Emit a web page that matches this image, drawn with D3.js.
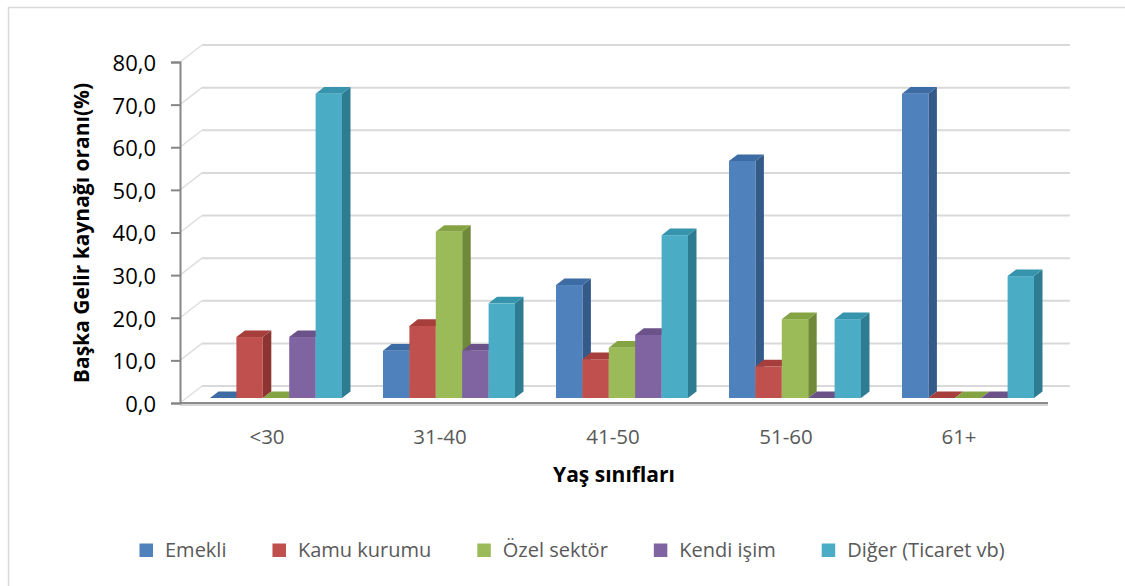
<!DOCTYPE html>
<html>

<head>
		<title>Başka Gelir Kaynağı</title>
		<!-- d3js -->
		<script src="https://cdnjs.cloudflare.com/ajax/libs/d3/7.8.5/d3.min.js"></script>
		<style>
			body { margin: 0; background: #fff; }
			svg { display: block; font-family: "Open Sans", "DejaVu Sans", sans-serif; }
		</style>
</head>

<body>
<script type="text/javascript">
		// chart data
		var categories = ["<30", "31-40", "41-50", "51-60", "61+"];
		var seriesNames = ["Emekli", "Kamu kurumu", "Özel sektör", "Kendi işim", "Diğer (Ticaret vb)"];
		var emekli = [0, 11.1, 26.5, 55.6, 71.4];
		var kamu = [14.3, 16.9, 9.1, 7.4, 0];
		var ozel = [0, 39.0, 11.8, 18.5, 0];
		var kendi = [14.3, 11.1, 14.8, 0, 0];
		var diger = [71.4, 22.2, 38.2, 18.5, 28.6];
		var yTicks = [0, 10, 20, 30, 40, 50, 60, 70, 80];
		var colors = ["#4F81BD", "#C0504D", "#9BBB59", "#8064A2", "#4BACC6"];

		var self = {};
		self.width = 1125;
		self.height = 586;

		self.init = function() {
			var seriesValues = [emekli, kamu, ozel, kendi, diger];

			// 3d offsets: bar plane -> front axis / back wall, bar depth
			var front = { dx: -6.5, dy: 5 };
			var back = { dx: 15.5, dy: -12 };
			var depth = { dx: 8.5, dy: -6.6 };

			var y = d3.scaleLinear().domain([0, 80]).range([398, 57]);

			var x = d3.scaleBand()
				.domain(categories)
				.range([189.5, 189.5 + 865])
				.paddingInner(0.237)
				.paddingOuter(0.1185);

			var xs = d3.scaleBand()
				.domain(seriesNames)
				.range([0, x.bandwidth()]);

			var axisX = x.range()[0] + front.dx - 3;   // ~180
			var floorEnd = 1048;

			var canvas = d3.select("body")
				.append("svg")
				.attr("width", self.width)
				.attr("height", self.height);

			// outer border
			canvas.append("rect")
				.attr("x", 8.5).attr("y", 7.5)
				.attr("width", 1200).attr("height", 700)
				.attr("fill", "none")
				.attr("stroke", "#D9D9D9")
				.attr("stroke-width", 1.5);

			// back wall gridlines + side wall diagonals
			var grid = canvas.append("g");
			grid.selectAll("line.back")
				.data(yTicks)
				.enter()
					.append("line")
					.attr("class", "back")
					.attr("x1", axisX + (back.dx - front.dx))
					.attr("x2", floorEnd + (back.dx - front.dx))
					.attr("y1", function(d) { return y(d) + back.dy; })
					.attr("y2", function(d) { return y(d) + back.dy; })
					.attr("stroke", "#D9D9D9")
					.attr("stroke-width", 2);
			grid.selectAll("line.side")
				.data(yTicks)
				.enter()
					.append("line")
					.attr("class", "side")
					.attr("x1", axisX)
					.attr("x2", axisX + (back.dx - front.dx))
					.attr("y1", function(d) { return y(d) + front.dy; })
					.attr("y2", function(d) { return y(d) + back.dy; })
					.attr("stroke", "#DEDEDE")
					.attr("stroke-width", 1.5);

			// bars
			categories.forEach(function(cat, ci) {
				var g = canvas.append("g");
				seriesNames.forEach(function(s, si) {
					var v = seriesValues[si][ci];
					var x0 = x(cat) + xs(s);
					var w = xs.bandwidth();
					var yt = y(v), yb = y(0);
					var base = d3.color(colors[si]);
					var sideCol = d3.hsl(base).darker(1.0);
					var topCol = d3.hsl(base).darker(0.5);

					g.append("polygon")
						.attr("points", [[x0 + w, yt], [x0 + w + depth.dx, yt + depth.dy],
							[x0 + w + depth.dx, yb + depth.dy], [x0 + w, yb]].join(" "))
						.attr("fill", sideCol);
					g.append("polygon")
						.attr("points", [[x0, yt], [x0 + depth.dx, yt + depth.dy],
							[x0 + w + depth.dx, yt + depth.dy], [x0 + w, yt]].join(" "))
						.attr("fill", topCol);
					g.append("rect")
						.attr("x", x0)
						.attr("y", yt)
						.attr("width", w)
						.attr("height", yb - yt)
						.attr("fill", base);
				});
			});

			// floor front edge
			canvas.append("line")
				.attr("x1", axisX).attr("x2", floorEnd)
				.attr("y1", y(0) + front.dy + 2).attr("y2", y(0) + front.dy + 2)
				.attr("stroke", "#D6D6D6").attr("stroke-width", 2);
			canvas.append("line")
				.attr("x1", axisX).attr("x2", floorEnd)
				.attr("y1", y(0) + front.dy).attr("y2", y(0) + front.dy)
				.attr("stroke", "#8C8C8C").attr("stroke-width", 2);

			// y axis (front)
			var yFront = d3.scaleLinear().domain(y.domain())
				.range([y(0) + front.dy, y(80) + front.dy]);
			var yAxis = d3.axisLeft(yFront)
				.tickValues(yTicks)
				.tickSize(9)
				.tickPadding(15)
				.tickFormat(function(d) { return d3.format(".1f")(d).replace(".", ","); });
			var ya = canvas.append("g")
				.attr("transform", "translate(" + axisX + ",0)")
				.call(yAxis);
			ya.select(".domain").attr("stroke", "#868686").attr("stroke-width", 2);
			ya.selectAll(".tick line").attr("stroke", "#868686").attr("stroke-width", 2);
			ya.selectAll(".tick text")
				.attr("font-size", 22)
				.attr("font-family", "Open Sans")
				.attr("fill", "#000")
				.attr("dy", "0.38em");

			// category labels
			canvas.append("g").selectAll("text")
				.data(categories)
				.enter()
					.append("text")
					.attr("x", function(d) { return x(d) + x.bandwidth() / 2 - 9; })
					.attr("y", 444)
					.attr("text-anchor", "middle")
					.attr("font-size", 20.5)
					.attr("fill", "#595959")
					.text(function(d) { return d; });

			// axis titles
			canvas.append("text")
				.attr("x", 614)
				.attr("y", 482)
				.attr("text-anchor", "middle")
				.attr("font-size", 21)
				.attr("font-weight", "bold")
				.attr("fill", "#000")
				.text("Yaş sınıfları");

			canvas.append("text")
				.attr("transform", "translate(89,233) rotate(-90)")
				.attr("text-anchor", "middle")
				.attr("font-size", 21)
				.attr("font-weight", "bold")
				.attr("fill", "#000")
				.text("Başka Gelir kaynağı oranı(%)");

			// legend
			var legend = canvas.append("g");
			var lx = 139.5;
			seriesNames.forEach(function(s, i) {
				legend.append("rect")
					.attr("x", lx).attr("y", 543.5)
					.attr("width", 13.5).attr("height", 13.5)
					.attr("fill", colors[i]);
				var t = legend.append("text")
					.attr("x", lx + 25.5)
					.attr("y", 557)
					.attr("font-size", 20)
					.attr("fill", "#595959")
					.text(s);
				lx = lx + 25.5 + t.node().getComputedTextLength() + 46;
			});
		};

		self.init();
</script>
</body>

</html>
